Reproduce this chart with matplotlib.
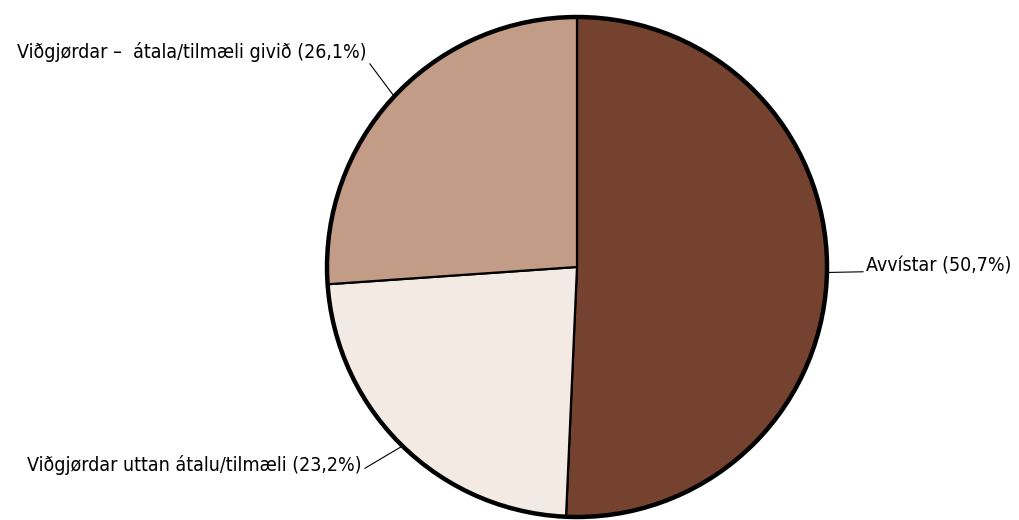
import numpy as np
import matplotlib.pyplot as plt
from matplotlib.patches import Circle

plt.rcParams['font.family'] = ['Liberation Sans Narrow', 'DejaVu Sans']
plt.rcParams['font.stretch'] = 'condensed'

# data
labels = ['Avvístar', 'Viðgjørdar uttan átalu/tilmæli', 'Viðgjørdar –  átala/tilmæli givið']
shares = [50.7, 23.2, 26.1]
colors = ['#75422F', '#F3EAE4', '#C29C86']

def main():
    fig = plt.figure(figsize=(10.19, 5.2), dpi=100)
    ax = fig.add_axes([0, 0, 1, 1])

    cx, cy, r = 577, 253, 250
    wedges, _ = ax.pie(shares, colors=colors, startangle=90, counterclock=False,
                       center=(cx, cy), radius=r, frame=True,
                       wedgeprops=dict(edgecolor='black', linewidth=1.6))
    ax.set_xlim(0, 1019)
    ax.set_ylim(0, 520)
    ax.set_aspect('equal')
    ax.axis('off')
    ax.add_patch(Circle((cx, cy), r, fill=False, edgecolor='black', linewidth=3.2, zorder=5))

    # label positions (text anchor, alignment, relpos of leader line)
    places = [((866, 254), 'left', (0, 0.2)),
              ((362, 55), 'right', (1, 0.25)),
              ((367, 468), 'right', (1, 0.1))]

    for w, lab, val, (pos, ha, rp) in zip(wedges, labels, shares, places):
        ang = np.deg2rad((w.theta1 + w.theta2) / 2)
        px = cx + r * np.cos(ang)
        py = cy + r * np.sin(ang)
        txt = f"{lab} ({val:.1f}%)".replace('.', ',')
        ax.annotate(txt, xy=(px, py), xytext=pos, ha=ha, va='center', fontsize=14,
                    arrowprops=dict(arrowstyle='-', color='black', lw=0.8,
                                    shrinkA=0, shrinkB=0, relpos=rp))

    fig.savefig('out.png', dpi=100)

if __name__ == "__main__":
    main()
